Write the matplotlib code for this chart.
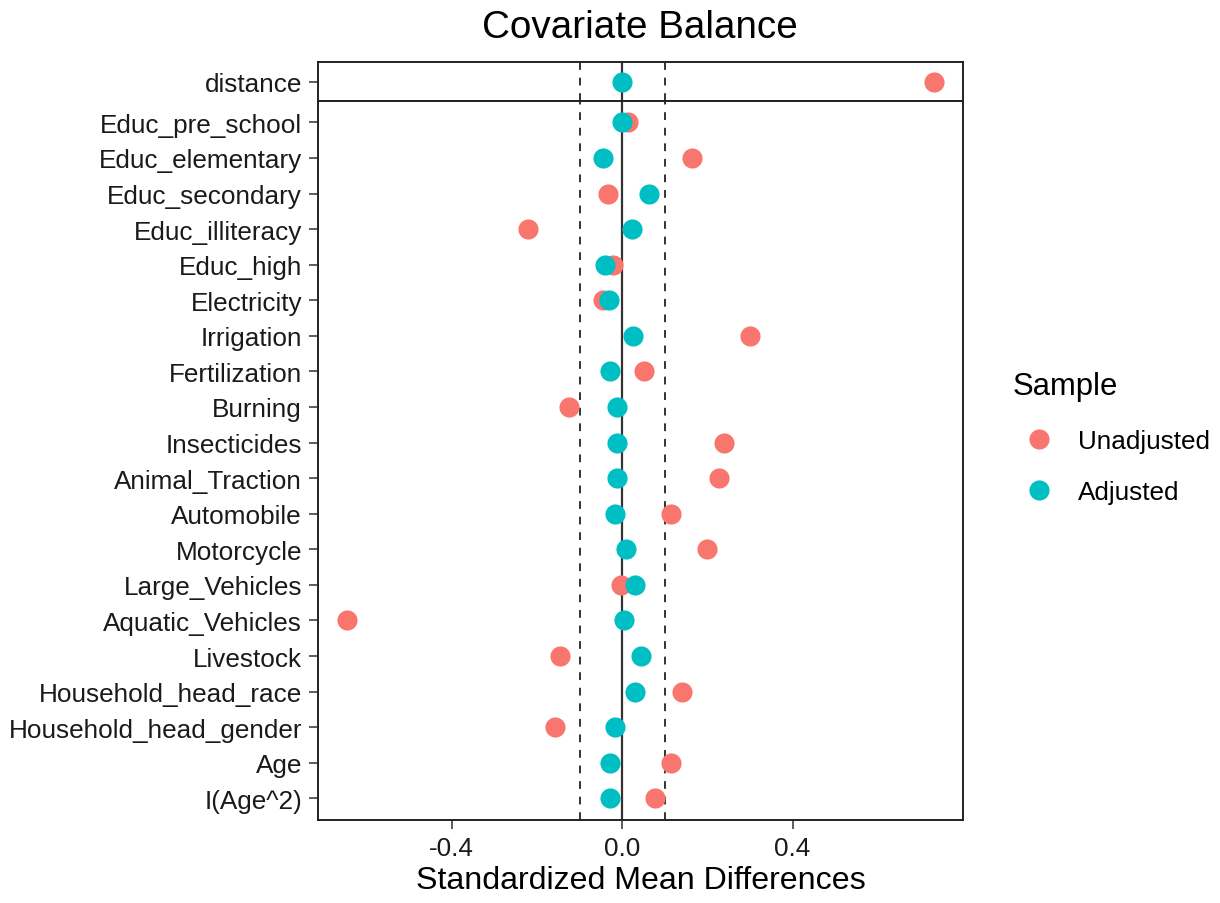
import matplotlib.pyplot as plt
from matplotlib.lines import Line2D

# covariates, top to bottom (distance sits in its own strip)
covariates = [
    "Educ_pre_school", "Educ_elementary", "Educ_secondary", "Educ_illiteracy",
    "Educ_high", "Electricity", "Irrigation", "Fertilization", "Burning",
    "Insecticides", "Animal_Traction", "Automobile", "Motorcycle",
    "Large_Vehicles", "Aquatic_Vehicles", "Livestock", "Household_head_race",
    "Household_head_gender", "Age", "I(Age^2)",
]
unadjusted = [
    0.014, 0.165, -0.033, -0.222, -0.021, -0.045, 0.299, 0.051, -0.125,
    0.240, 0.228, 0.114, 0.198, -0.002, -0.646, -0.146, 0.140, -0.158,
    0.114, 0.077,
]
adjusted = [
    0.000, -0.045, 0.064, 0.022, -0.040, -0.030, 0.026, -0.029, -0.012,
    -0.012, -0.012, -0.017, 0.009, 0.031, 0.005, 0.043, 0.031, -0.016,
    -0.029, -0.029,
]
distance_unadj = 0.732
distance_adj = 0.000
threshold = 0.1

col_un = "#F8766D"
col_adj = "#00BFC4"
FONT = "Liberation Sans"
plt.rcParams["font.family"] = [FONT, "DejaVu Sans"]

fig = plt.figure(figsize=(12.2, 9.04), dpi=100)
W, H = 1220, 904
left, right = 318 / W, 963 / W
ax_top = fig.add_axes([left, 1 - 102 / H, right - left, 39 / H])
ax = fig.add_axes([left, 1 - 820.7 / H, right - left, (820.7 - 102) / H])

xlim = (-0.714, 0.800)
ms = 14.5

for a in (ax_top, ax):
    a.axvline(0, color="#333333", lw=1.6, zorder=1)
    for t in (-threshold, threshold):
        a.axvline(t, color="#333333", lw=1.4, ls=(0, (4, 4)), zorder=1)
    a.set_xlim(*xlim)
    for s in a.spines.values():
        s.set_color("#222222")
        s.set_linewidth(1.4)
    a.tick_params(axis="both", length=6.5, width=1.1, color="#333333",
                  labelsize=18.8, labelcolor="#1a1a1a", pad=5)

# distance strip
ax_top.plot([distance_unadj], [0], "o", color=col_un, ms=ms, mec="none", zorder=3)
ax_top.plot([distance_adj], [0], "o", color=col_adj, ms=ms, mec="none", zorder=4)
ax_top.set_ylim(-0.55, 0.55)
ax_top.set_yticks([0])
ax_top.set_yticklabels(["distance"])
ax_top.set_xticks([])

# main panel
ypos = list(range(len(covariates) - 1, -1, -1))
ax.plot(unadjusted, ypos, "o", color=col_un, ms=ms, mec="none", ls="none", zorder=3)
ax.plot(adjusted, ypos, "o", color=col_adj, ms=ms, mec="none", ls="none", zorder=4)
ax.set_ylim(-0.6, len(covariates) - 0.4)
ax.set_yticks(ypos)
ax.set_yticklabels(covariates)
ax.set_xticks([-0.4, 0.0, 0.4])
ax.set_xticklabels(["-0.4", "0.0", "0.4"])
ax.set_xlabel("Standardized Mean Differences", fontsize=23.1, labelpad=4)

fig.text(640 / W, 1 - 28 / H, "Covariate Balance", fontsize=27.8,
         ha="center", va="center")

handles = [
    Line2D([], [], marker="o", ls="none", color=col_un, ms=ms, mec="none"),
    Line2D([], [], marker="o", ls="none", color=col_adj, ms=ms, mec="none"),
]
leg = fig.legend(handles, ["Unadjusted", "Adjusted"], title="Sample",
                 loc="upper left", bbox_to_anchor=(989 / W, 1 - 349 / H),
                 frameon=False, fontsize=18.8, title_fontsize=22.3,
                 handlelength=2.0, handletextpad=0.5, labelspacing=1.05)
leg._legend_box.align = "left"

fig.savefig("out.png", dpi=100)
